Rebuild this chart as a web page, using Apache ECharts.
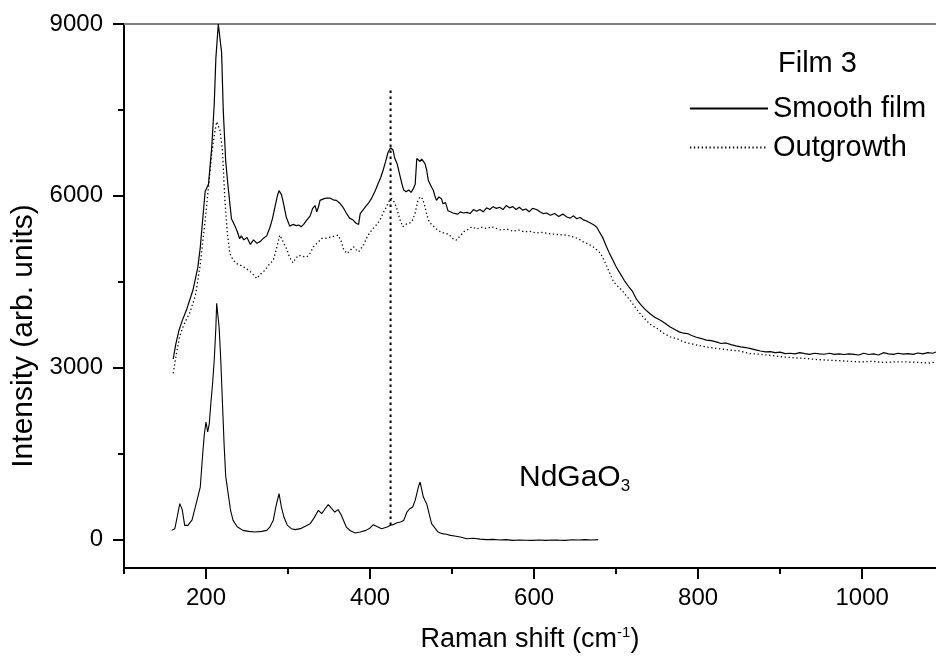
<!DOCTYPE html>
<html><head><meta charset="utf-8">
<script src="https://cdn.jsdelivr.net/npm/echarts@6/dist/echarts.min.js"></script>
<style>html,body{margin:0;padding:0;background:#fff}#c{width:936px;height:660px}</style>
</head><body><div id="c"></div>
<script>
// ---- data (Raman shift cm^-1, intensity arb. units) ----
const smoothShift = [
  160,163,167,171,176,184,190,193,196,199,
  203,207,210,212,215,217,219,221,224,227,
  231,235,238,241,243,246,250,254,258,262,
  266,270,274,278,281,284,287,289,292,294,
  298,302,306,310,313,316,319,323,327,330,
  333,335,337,339,341,344,347,351,355,359,
  363,367,371,375,379,383,386,388,390,394,
  398,402,406,410,413,416,419,422,425,428,
  430,433,436,439,441,444,447,450,453,455,
  457,459,461,463,465,467,469,471,473,475,
  477,479,481,484,487,489,492,495,498,501,
  504,507,510,514,518,522,526,530,534,538,
  542,546,550,554,558,562,566,570,574,578,
  582,586,590,594,598,603,607,611,615,620,
  625,630,635,640,644,648,652,656,660,664,
  668,672,676,680,684,688,692,696,700,705,
  710,715,720,725,730,735,741,747,754,760,
  766,772,777,782,787,792,798,804,810,816,
  822,828,834,840,846,852,858,864,870,876,
  882,888,894,900,906,912,918,924,930,936,
  942,948,954,960,966,972,978,984,990,996,
  1002,1008,1014,1020,1026,1032,1038,1044,1050,1056,
  1062,1068,1074,1080,1086,1090];
const smoothIntensity = [
  3150,3400,3650,3820,4000,4350,4750,5100,5600,6080,
  6200,6850,7600,8400,9000,9000,8500,7500,6600,6150,
  5600,5480,5380,5250,5300,5230,5270,5150,5230,5170,
  5200,5260,5300,5450,5600,5800,6000,6090,6020,5900,
  5620,5470,5500,5480,5490,5460,5500,5580,5650,5780,
  5830,5720,5800,5920,5930,5950,5960,5960,5930,5920,
  5870,5800,5700,5610,5580,5520,5500,5690,5720,5800,
  5870,5960,6080,6220,6320,6450,6600,6760,6840,6800,
  6660,6560,6380,6200,6100,6070,6100,6060,6130,6200,
  6650,6640,6600,6640,6600,6560,6450,6270,6300,6150,
  6100,6000,5920,5980,5950,5860,5880,5740,5720,5700,
  5690,5680,5720,5700,5710,5690,5760,5730,5760,5720,
  5790,5760,5810,5780,5800,5760,5830,5790,5810,5760,
  5800,5750,5770,5720,5780,5760,5720,5690,5700,5660,
  5690,5640,5680,5630,5610,5650,5600,5620,5580,5560,
  5530,5500,5460,5360,5260,5120,4990,4880,4760,4640,
  4520,4420,4330,4190,4100,4020,3944,3880,3827,3770,
  3710,3660,3623,3600,3594,3560,3530,3507,3480,3470,
  3450,3420,3430,3400,3380,3361,3350,3330,3310,3290,
  3273,3280,3260,3270,3245,3250,3240,3260,3245,3230,
  3250,3240,3233,3250,3230,3240,3228,3240,3230,3220,
  3250,3228,3240,3220,3260,3240,3230,3250,3235,3245,
  3230,3255,3240,3260,3250,3273];
const outShift = [
  160,164,168,173,180,187,193,199,204,207,
  210,213,215,217,220,223,226,229,233,237,
  243,249,256,262,267,272,277,282,286,290,
  294,298,302,306,309,313,318,323,327,331,
  336,341,347,353,358,361,365,368,372,376,
  380,383,386,389,392,397,402,407,412,416,
  420,423,426,429,432,436,440,443,447,451,
  455,458,461,464,467,469,472,475,478,481,
  486,491,496,500,505,510,514,518,524,530,
  536,542,548,554,560,567,574,581,588,595,
  602,609,617,624,632,640,648,654,660,666,
  672,677,681,685,689,693,697,702,707,712,
  717,722,727,733,741,750,758,766,775,782,
  790,800,810,823,836,850,863,877,890,904,
  917,931,945,958,972,985,999,1012,1026,1040,
  1054,1068,1082,1090];
const outIntensity = [
  2900,3250,3550,3750,3950,4250,4800,5575,6300,6740,
  7050,7293,7300,7148,6800,5924,5350,4992,4880,4818,
  4780,4730,4650,4556,4640,4701,4800,4876,5080,5313,
  5200,5080,4920,4829,4900,4963,4940,4934,5000,5108,
  5180,5254,5260,5283,5300,5313,5200,5050,4992,5050,
  5108,5060,5021,5080,5138,5300,5400,5480,5575,5700,
  5807,5900,5954,5900,5807,5600,5458,5500,5517,5546,
  5700,5900,5983,5950,5807,5680,5546,5500,5458,5420,
  5370,5342,5330,5260,5225,5300,5370,5400,5458,5420,
  5450,5430,5460,5429,5400,5420,5380,5400,5370,5380,
  5350,5360,5342,5330,5320,5313,5280,5250,5196,5160,
  5108,5050,4992,4880,4759,4620,4497,4420,4352,4260,
  4177,4080,3980,3880,3760,3682,3600,3536,3500,3448,
  3420,3390,3360,3332,3310,3290,3245,3230,3210,3186,
  3170,3160,3140,3130,3120,3110,3099,3110,3090,3100,
  3099,3090,3080,3099];
const ndShift = [
  158,162,165,168,171,174,178,183,188,193,
  196,198,200,202,204,206,208,210,212,213,
  214,216,218,220,222,224,227,230,233,238,
  245,252,260,268,274,278,282,285,289,292,
  295,299,304,309,315,321,327,332,337,341,
  345,349,353,357,361,365,371,376,382,388,
  395,400,404,409,414,420,425,428,433,437,
  441,445,448,452,455,457,459,461,463,465,
  467,469,472,475,479,483,488,493,498,503,
  510,518,526,534,542,550,558,566,574,582,
  590,598,606,614,622,630,638,646,654,662,
  670,678];
const ndIntensity = [
  157,187,400,624,520,245,245,340,624,914,
  1500,1847,2050,1875,2022,2400,2721,3128,3700,4124,
  4100,3700,3128,2400,1672,1100,799,500,332,220,
  157,140,128,140,157,220,332,560,799,560,
  390,250,187,170,187,230,274,380,507,449,
  530,606,540,477,519,420,215,150,110,130,
  157,200,257,220,187,210,245,257,290,303,
  330,477,530,565,680,799,920,1001,870,739,
  680,624,450,274,200,128,100,90,70,60,
  40,12,20,5,-5,0,-10,-5,-17,-10,
  -15,-17,-12,-17,-10,-14,-17,-8,-12,-5,
  -10,-5];
const markerShift = [425, 425];
const markerIntensity = [250, 7880];
const xMajorTicks = [200, 400, 600, 800, 1000];
const xMinorTicks = [100, 300, 500, 700, 900];
const yMajorTicks = [0, 3000, 6000, 9000];
const yMinorTicks = [1500, 4500, 7500];
const seriesNames = ['Smooth film', 'Outgrowth'];

const zip = (a, b) => a.map((v, i) => [v, b[i]]);
const FONT = '"Liberation Sans", Arial, sans-serif';
const chart = echarts.init(document.getElementById('c'), null, {renderer: 'canvas'});
const X = {min: 100, max: 1090};
const Y = {min: -500, max: 9000};
const plain = v => String(v);
chart.setOption({
  animation: false,
  backgroundColor: '#fff',
  textStyle: {fontFamily: FONT},
  title: [
    {text: 'Film 3', left: 778, top: 49, padding: 0, textStyle: {fontFamily: FONT, fontSize: 29, fontWeight: 'normal', color: '#000'}},
    {text: '{a|NdGaO}{s|3}', left: 519, top: 460, padding: 0, textStyle: {fontFamily: FONT, fontWeight: 'normal', color: '#000',
      rich: {a: {fontFamily: FONT, fontSize: 30, color: '#000'}, s: {fontFamily: FONT, fontSize: 17, color: '#000', padding: [18, 0, 0, 0]}}}}
  ],
  legend: {
    orient: 'vertical', left: 689, top: 94, padding: 0, itemWidth: 78, itemHeight: 14, itemGap: 10,
    data: seriesNames,
    itemStyle: {opacity: 0},
    textStyle: {fontFamily: FONT, fontSize: 29, color: '#000'}
  },
  grid: {left: 124, right: 0, top: 24, bottom: 92, containLabel: false},
  xAxis: [
    {type: 'value', min: X.min, max: X.max, position: 'bottom',
      name: '{a|Raman shift (cm}{s|-1}{a|)}', nameLocation: 'middle', nameGap: 57,
      nameTextStyle: {rich: {a: {fontFamily: FONT, fontSize: 27, color: '#000'}, s: {fontFamily: FONT, fontSize: 15, color: '#000', padding: [0, 0, 14, 0]}}},
      axisLine: {show: true, onZero: false, lineStyle: {color: '#000', width: 2}},
      axisTick: {show: true, customValues: xMajorTicks, length: 11, lineStyle: {color: '#000', width: 2}},
      axisLabel: {customValues: xMajorTicks, formatter: plain, margin: 18, fontFamily: FONT, fontSize: 24, color: '#000'},
      splitLine: {show: false}},
    {type: 'value', min: X.min, max: X.max, position: 'bottom', offset: 0,
      axisLine: {show: false, onZero: false},
      axisTick: {show: true, customValues: xMinorTicks, length: 6, lineStyle: {color: '#000', width: 2}},
      axisLabel: {show: false}, splitLine: {show: false}},
    {type: 'value', min: X.min, max: X.max, position: 'top', offset: 0,
      axisLine: {show: true, onZero: false, lineStyle: {color: '#808080', width: 2}},
      axisTick: {show: false}, axisLabel: {show: false}, splitLine: {show: false}}
  ],
  yAxis: [
    {type: 'value', min: Y.min, max: Y.max, position: 'left',
      name: 'Intensity (arb. units)', nameLocation: 'middle', nameGap: 84, nameRotate: 90,
      nameTextStyle: {fontFamily: FONT, fontSize: 30, color: '#000', padding: [0, 80, 0, 0]},
      axisLine: {show: true, onZero: false, lineStyle: {color: '#000', width: 2}},
      axisTick: {show: true, customValues: yMajorTicks, length: 11, lineStyle: {color: '#000', width: 2}},
      axisLabel: {customValues: yMajorTicks, formatter: plain, margin: 21, fontFamily: FONT, fontSize: 24, color: '#000'},
      splitLine: {show: false}},
    {type: 'value', min: Y.min, max: Y.max, position: 'left', offset: 0,
      axisLine: {show: false, onZero: false},
      axisTick: {show: true, customValues: yMinorTicks, length: 6, lineStyle: {color: '#000', width: 2}},
      axisLabel: {show: false}, splitLine: {show: false}}
  ],
  series: [
    {name: seriesNames[0], type: 'line', data: zip(smoothShift, smoothIntensity), showSymbol: false, symbol: 'none',
      lineStyle: {color: '#000', width: 1.2}, itemStyle: {color: '#000'}, clip: true},
    {name: seriesNames[1], type: 'line', data: zip(outShift, outIntensity), showSymbol: false, symbol: 'none',
      lineStyle: {color: '#000', width: 1.3, type: [1.3, 2.6]}, itemStyle: {color: '#000'}, clip: true},
    {name: 'NdGaO3', type: 'line', data: zip(ndShift, ndIntensity), showSymbol: false, symbol: 'none',
      lineStyle: {color: '#000', width: 1.1}, clip: true},
    {name: 'marker', type: 'line', data: zip(markerShift, markerIntensity), showSymbol: false, symbol: 'none',
      lineStyle: {color: '#000', width: 2, type: [2.5, 3.5]}}
  ]
});
</script></body></html>
